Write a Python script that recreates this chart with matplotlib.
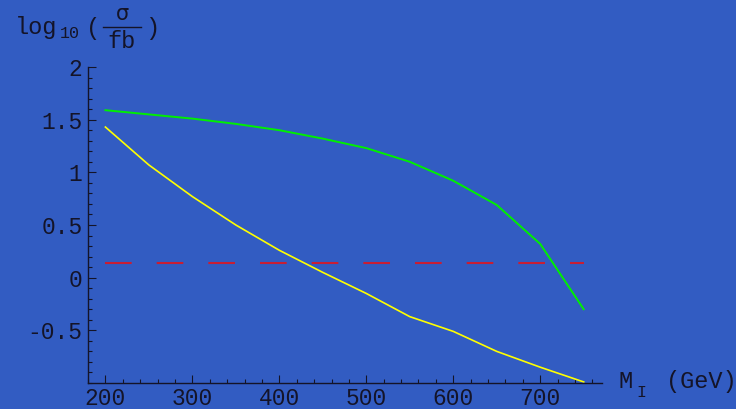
import matplotlib
matplotlib.use("Agg")
import matplotlib.pyplot as plt
from matplotlib.ticker import MultipleLocator

# masse (GeV)
masse = [200, 250, 300, 350, 400, 450, 500, 550, 600, 650, 700, 750]
# log10(sigma/fb) pour les deux courbes
courbe_verte = [1.59, 1.55, 1.51, 1.46, 1.40, 1.32, 1.23, 1.10, 0.92, 0.69, 0.32, -0.30]
courbe_jaune = [1.43, 1.07, 0.77, 0.50, 0.26, 0.05, -0.15, -0.37, -0.51, -0.70, -0.85, -0.99]
# seuil horizontal
seuil_x = [200, 750]
seuil_y = [0.14, 0.14]

bleu = '#325cc2'
encre = '#141428'
police = 'Liberation Mono'

fig = plt.figure(figsize=(7.36, 4.09), dpi=100, facecolor=bleu)
W, H = 736, 409
ax = fig.add_axes([88 / W, (H - 383) / H, (602 - 88) / W, (383 - 67) / H])
ax.set_facecolor(bleu)

ax.plot(masse, courbe_verte, color='#00f000', lw=1.4)
ax.plot(masse, courbe_jaune, color='#ffff00', lw=1.2)
ax.plot(seuil_x, seuil_y, color='#c81e34', lw=1.5, dashes=(12.8, 12.0))

ax.set_xlim(180, 771)
ax.set_ylim(-1.0, 2.0)
ax.xaxis.set_major_locator(MultipleLocator(100))
ax.xaxis.set_minor_locator(MultipleLocator(20))
ax.yaxis.set_major_locator(MultipleLocator(0.5))
ax.yaxis.set_minor_locator(MultipleLocator(0.1))
ax.set_xticks([200, 300, 400, 500, 600, 700])
ax.set_yticks([-0.5, 0, 0.5, 1, 1.5, 2])
ax.set_yticklabels(['-0.5', '0', '0.5', '1', '1.5', '2'])

for s in ['top', 'right']:
    ax.spines[s].set_visible(False)
for s in ['left', 'bottom']:
    ax.spines[s].set_color(encre)
    ax.spines[s].set_linewidth(1.0)

ax.tick_params(which='both', direction='in', color=encre, labelcolor=encre,
               labelsize=16.5, width=0.8)
ax.tick_params(which='major', length=6)
ax.tick_params(which='minor', length=3)
ax.tick_params(axis='x', pad=3)
ax.tick_params(axis='y', pad=4)
for lab in ax.get_xticklabels() + ax.get_yticklabels():
    lab.set_family(police)

# titre de l'axe y : log10( sigma / fb )
def fx(px):
    return px / W

def fy(py):
    return 1 - py / H

fig.text(fx(15), fy(34), 'log', family=police, fontsize=17, color=encre, va='baseline')
fig.text(fx(60), fy(38), '10', family=police, fontsize=12, color=encre, va='baseline')
fig.text(fx(86), fy(28), '(', family=police, fontsize=17, color=encre, va='center')
fig.text(fx(122), fy(14), '\u03c3', family='DejaVu Sans', fontsize=15, color=encre, ha='center', va='center')
fig.add_artist(plt.Line2D([fx(103), fx(141)], [fy(27), fy(27)], color=encre, lw=1.0))
fig.text(fx(122), fy(41), 'fb', family=police, fontsize=17, color=encre, ha='center', va='center')
fig.text(fx(145), fy(28), ')', family=police, fontsize=17, color=encre, va='center')

# titre de l'axe x : M_I (GeV)
fig.text(fx(619), fy(388), 'M', family=police, fontsize=17, color=encre, va='baseline')
fig.text(fx(636), fy(397), 'I', family=police, fontsize=12, color=encre, va='baseline')
fig.text(fx(666), fy(388), '(GeV)', family=police, fontsize=17, color=encre, va='baseline')

fig.savefig('out.png', dpi=100, facecolor=bleu)
